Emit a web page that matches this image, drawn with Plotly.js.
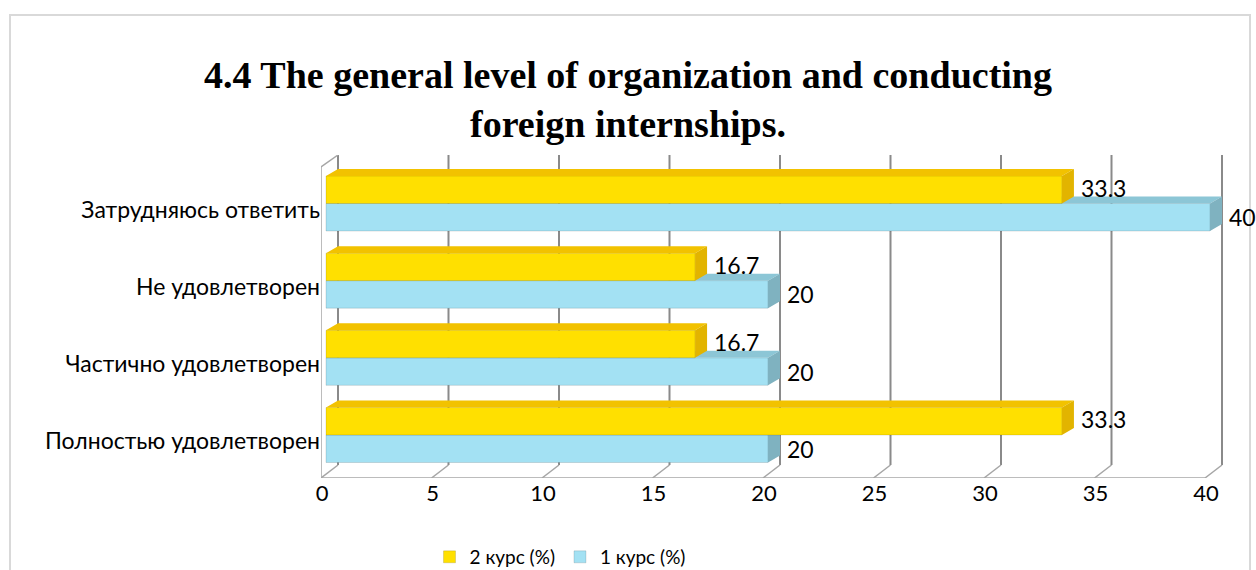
<!DOCTYPE html>
<html>
<head>
<meta charset="utf-8">
<script src="https://cdn.plot.ly/plotly-3.0.1.min.js"></script>
<style>
  html, body { margin: 0; padding: 0; background: #fff; }
  #chart { position: relative; z-index: 1; width: 1256px; height: 570px; }
  #frame { position: absolute; z-index: 0; left: 9px; top: 14px; width: 1238px; height: 620px;
           border: 2px solid #d9d9d9; pointer-events: none; }
</style>
</head>
<body>
<div id="frame"></div>
<div id="chart"></div>
<script>
// данные (снизу вверх)
const categories = ['Полностью удовлетворен', 'Частично удовлетворен', 'Не удовлетворен', 'Затрудняюсь ответить'];
const kurs2 = [33.3, 16.7, 16.7, 33.3];
const kurs1 = [20, 20, 20, 40];
const xTicks = [0, 5, 10, 15, 20, 25, 30, 35, 40];
const seriesNames = ['2 курс (%)', '1 курс (%)'];

// геометрия "псевдо-3D" в пикселях
const G = { left: 321, right: 1236, top: 155, bottom: 478, x0: 326, ux: 22.1, y0: 435, uy: 77.17,
            dx: 12, dy: 7, barH: 27.5 };
const px = p => p / G.ux;
const py = p => p / G.uy;
const xRange = [(G.left - G.x0) / G.ux, (G.right - G.x0) / G.ux];
const yRange = [(G.y0 - G.bottom) / G.uy, (G.y0 - G.top) / G.uy];
const yBackFloor = (G.y0 - 465) / G.uy;
const bw = py(G.barH);
const pos = categories.map((c, i) => i);

const FONT = 'Lato, "Open Sans", sans-serif';

// верхняя и боковая грани столбцов
function faces(vals, offset) {
  const top = { x: [], y: [] }, side = { x: [], y: [] };
  vals.forEach((v, i) => {
    const yb = i + offset, yt = yb + bw;
    top.x.push(0, px(G.dx), v + px(G.dx), v, 0, null);
    top.y.push(yt, yt + py(G.dy), yt + py(G.dy), yt, yt, null);
    side.x.push(v, v, v + px(G.dx), v + px(G.dx), v, null);
    side.y.push(yb, yt, yt + py(G.dy), yb + py(G.dy), yb, null);
  });
  return [top, side];
}

function barSet(vals, offset, name, cFront, cTop, cSide, xa) {
  const [top, side] = faces(vals, offset);
  return [
    { type: 'bar', orientation: 'h', x: vals, y: pos, width: bw, offset: offset,
      name: name, xaxis: xa, yaxis: 'y',
      marker: { color: cFront, line: { color: 'rgba(0,0,0,0.12)', width: 1 } },
      hoverinfo: 'x' },
    { type: 'scatter', mode: 'lines', x: top.x, y: top.y, fill: 'toself', fillcolor: cTop,
      line: { width: 0, color: cTop }, xaxis: xa, yaxis: 'y', showlegend: false, hoverinfo: 'skip' },
    { type: 'scatter', mode: 'lines', x: side.x, y: side.y, fill: 'toself', fillcolor: cSide,
      line: { width: 0, color: cSide }, xaxis: xa, yaxis: 'y', showlegend: false, hoverinfo: 'skip' },
  ];
}

const traces = [
  ...barSet(kurs2, 0, seriesNames[0], '#FFE000', '#F2C200', '#E2B400', 'x2'),
  ...barSet(kurs1, -bw, seriesNames[1], '#A3E1F3', '#8CC6D6', '#7FB2C0', 'x'),
];

// сетка на задней стенке, пол, левая стенка
const gridCol = '#8a8a8a', wallCol = '#a6a6a6';
const shapes = [];
xTicks.forEach(v => {
  shapes.push({ type: 'line', layer: 'below', xref: 'x', yref: 'y',
    x0: v + px(G.dx), x1: v + px(G.dx), y0: yBackFloor, y1: yRange[1],
    line: { color: gridCol, width: 2 } });
  shapes.push({ type: 'line', layer: 'below', xref: 'x', yref: 'y',
    x0: v - px(5), x1: v + px(G.dx), y0: yRange[0], y1: yBackFloor,
    line: { color: wallCol, width: 1.5 } });
});
shapes.push({ type: 'line', layer: 'below', xref: 'x', yref: 'y',
  x0: -px(5), x1: 40 - px(5), y0: yRange[0], y1: yRange[0], line: { color: wallCol, width: 1.5 } });
shapes.push({ type: 'line', layer: 'below', xref: 'x', yref: 'y',
  x0: -px(5), x1: -px(5), y0: yRange[0], y1: (G.y0 - 167) / G.uy, line: { color: wallCol, width: 1.5 } });
shapes.push({ type: 'line', layer: 'below', xref: 'x', yref: 'y',
  x0: -px(5), x1: px(G.dx), y0: (G.y0 - 167) / G.uy, y1: yRange[1], line: { color: wallCol, width: 1.5 } });

// подписи значений
const annotations = [];
kurs2.forEach((v, i) => annotations.push({ x: v, y: i + bw / 2, xref: 'x', yref: 'y', text: String(v),
  showarrow: false, xanchor: 'left', xshift: 17, yshift: 2, font: { family: FONT, size: 23, color: '#000' } }));
kurs1.forEach((v, i) => annotations.push({ x: v, y: i - bw / 2, xref: 'x', yref: 'y', text: String(v),
  showarrow: false, xanchor: 'left', xshift: 17, font: { family: FONT, size: 23, color: '#000' } }));

const layout = {
  width: 1256, height: 570,
  paper_bgcolor: 'rgba(0,0,0,0)', plot_bgcolor: 'rgba(0,0,0,0)',
  margin: { l: G.left, r: 1256 - G.right, t: G.top, b: 570 - G.bottom, pad: 0, autoexpand: false },
  font: { family: FONT, color: '#000', size: 22 },
  title: {
    text: '4.4 The general level of organization and conducting<br>foreign internships.',
    font: { family: '"Liberation Serif", "Times New Roman", serif', size: 38, color: '#000', weight: 'bold' },
    x: 0.5, xref: 'container', xanchor: 'center',
    y: 1 - 88 / 570, yref: 'container', yanchor: 'middle',
  },
  xaxis: { range: xRange, tickvals: xTicks, ticktext: xTicks.map(String), ticklabelshift: -4,
           showgrid: false, zeroline: false, showline: false, ticks: '',
           tickfont: { family: FONT, size: 22 }, fixedrange: true },
  xaxis2: { range: xRange, overlaying: 'x', visible: false, fixedrange: true },
  yaxis: { range: yRange, tickvals: pos, ticktext: categories, showgrid: false, zeroline: false,
           showline: false, ticks: '', ticklabelshift: 6,
           tickfont: { family: FONT, size: 23 }, fixedrange: true },
  showlegend: true,
  legend: { orientation: 'h', x: 560 / 1256, xref: 'container', xanchor: 'center',
            y: 13 / 570, yref: 'container', yanchor: 'middle',
            font: { family: FONT, size: 19 }, bgcolor: 'rgba(0,0,0,0)' },
  bargap: 0, shapes, annotations,
};

Plotly.newPlot('chart', traces, layout, { displayModeBar: false, staticPlot: true });
</script>
</body>
</html>
